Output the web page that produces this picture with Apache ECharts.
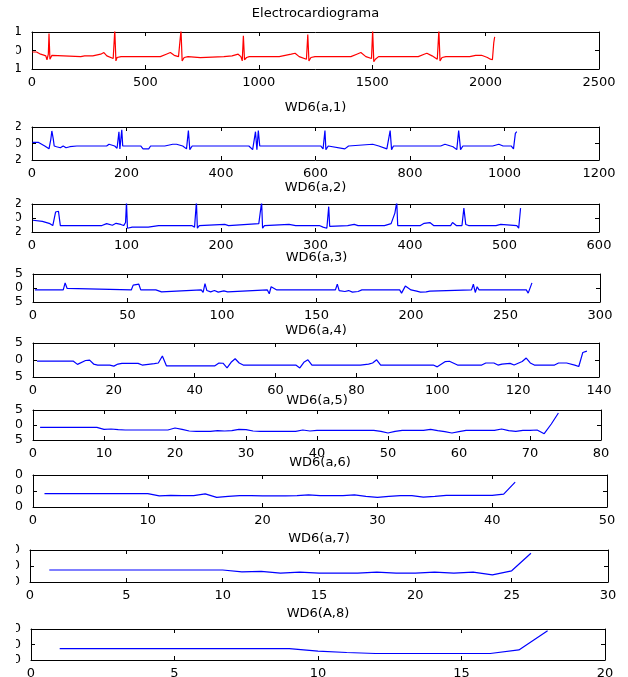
<!DOCTYPE html>
<html><head><meta charset="utf-8">
<script src="https://cdn.jsdelivr.net/npm/echarts@6/dist/echarts.min.js"></script>
<style>
html,body{margin:0;padding:0;background:#fff;}
#wrap{position:relative;width:628px;height:677px;overflow:hidden;background:#fff;}
#chart{position:absolute;left:16px;top:0;width:612px;height:677px;}
</style>
</head><body><div id="wrap"><div id="chart"></div></div>
<script>
// ---- data ----
const titles = ['Electrocardiograma','WD6(a,1)','WD6(a,2)','WD6(a,3)','WD6(a,4)','WD6(a,5)','WD6(a,6)','WD6(a,7)','WD6(A,8)'];
const xMax  = [2500,1200,600,300,140,80,50,30,20];
const xStep = [500,200,100,50,20,10,10,5,5];
const yMax  = [1,2,2,5,5,5,10,20,20];

const ecg = [[1,-0.08],[20,-0.08],[38,-0.2],[52,-0.25],[61,-0.29],[66,-0.5],[72,-0.2],[75,0.92],[79,-0.47],[84,-0.56],[88,-0.26],[95,-0.33],[215,-0.33],[232,-0.29],[268,-0.29],[303,-0.2],[317,-0.11],[330,-0.29],[358,-0.43],[365,1.1],[370,-0.56],[375,-0.38],[393,-0.33],[566,-0.33],[592,-0.2],[610,-0.11],[627,-0.26],[646,-0.33],[652,-0.43],[657,1.1],[662,-0.56],[671,-0.38],[688,-0.33],[742,-0.38],[846,-0.33],[882,-0.29],[909,-0.2],[921,-0.33],[927,-0.56],[932,0.8],[937,-0.5],[946,-0.38],[958,-0.33],[1090,-0.33],[1143,-0.2],[1160,-0.15],[1178,-0.33],[1210,-0.47],[1216,0.86],[1221,-0.56],[1230,-0.38],[1248,-0.33],[1406,-0.33],[1432,-0.2],[1450,-0.11],[1472,-0.33],[1497,-0.43],[1502,1.1],[1507,-0.61],[1514,-0.47],[1528,-0.33],[1703,-0.33],[1729,-0.2],[1741,-0.15],[1764,-0.29],[1787,-0.47],[1794,1.1],[1799,-0.56],[1808,-0.38],[1825,-0.33],[1930,-0.33],[1956,-0.26],[1982,-0.26],[2008,-0.38],[2021,-0.47],[2030,-0.5],[2036,0.42],[2040,0.74]];

const a1 = [[1,0.13],[14,0.13],[27,-0.3],[36,-0.65],[40,0.57],[42,1.52],[45,0.57],[47,-0.3],[52,-0.39],[60,-0.52],[66,-0.3],[72,-0.52],[80,-0.39],[95,-0.3],[158,-0.3],[163,-0.09],[175,-0.3],[180,-0.57],[184,1.43],[186,-0.65],[190,1.65],[192,-0.3],[230,-0.3],[235,-0.65],[247,-0.65],[251,-0.3],[281,-0.3],[285,-0.39],[298,-0.09],[306,-0.09],[319,-0.3],[327,-0.65],[331,1.57],[334,-0.74],[339,-0.3],[391,-0.3],[395,-0.09],[408,-0.3],[459,-0.3],[467,-0.74],[473,1.43],[476,-0.74],[479,1.57],[482,-0.3],[544,-0.3],[548,-0.09],[569,-0.3],[611,-0.3],[616,-0.65],[620,1.57],[622,-0.74],[627,-0.3],[662,-0.65],[670,-0.3],[721,-0.09],[734,-0.3],[751,-0.65],[758,1.57],[761,-0.74],[765,-0.3],[865,-0.3],[874,-0.09],[891,-0.39],[899,-0.74],[903,1.57],[907,-0.74],[912,-0.3],[975,-0.3],[988,-0.09],[997,-0.3],[1014,-0.3],[1019,-0.65],[1023,1.22],[1026,1.43]];

const a2 = [[1,-0.32],[11,-0.49],[19,-0.81],[22,-1.08],[25,0.86],[27,1.14],[28,0.97],[30,-1.08],[74,-1.08],[79,-0.81],[85,-1.03],[89,-0.76],[94,-0.92],[97,-1.08],[99,-0.65],[100,2.3],[101,-1.46],[102,-1.19],[106,-1.3],[123,-1.3],[134,-1.08],[136,-0.92],[140,-1.08],[164,-1.08],[166,-0.81],[169,-1.08],[172,-1.3],[174,2.3],[175,-1.46],[177,-1.08],[204,-0.92],[208,-1.08],[240,-0.81],[243,2.3],[244,-1.46],[246,-1.08],[272,-0.92],[279,-1.08],[304,-1.08],[308,-1.3],[312,-1.46],[314,1.62],[315,-1.19],[334,-1.08],[341,-0.92],[345,-1.08],[373,-1.08],[380,-0.81],[384,0.7],[386,2.3],[387,-1.08],[411,-1.08],[415,-0.76],[421,-0.65],[425,-1.08],[443,-1.08],[445,-0.65],[449,-1.08],[455,-1.08],[457,1.41],[459,-0.92],[462,-1.08],[491,-1.08],[496,-0.92],[513,-1.08],[515,-1.46],[517,1.41]];

const a3 = [[1,-0.68],[8,-0.68],[9,-0.34],[10,-0.68],[16,-0.68],[17,1.82],[18,-0.11],[19,-0.68],[52,-0.68],[53,1.02],[54,1.59],[56,1.36],[57,-0.68],[65,-0.68],[66,-1.36],[68,-1.36],[69,-0.68],[89,-0.68],[90,-1.59],[91,1.59],[92,-0.91],[93,-0.68],[94,-1.36],[96,-0.91],[98,-1.48],[101,-1.02],[103,-1.36],[104,-0.68],[124,-0.68],[125,-2.05],[126,0.45],[127,1.02],[129,-0.68],[160,-0.68],[161,1.36],[162,-0.91],[165,-1.25],[167,-0.91],[169,-1.48],[172,-1.25],[174,-0.68],[194,-0.68],[195,-1.82],[197,0.68],[198,0.45],[200,-0.68],[203,-1.14],[205,-1.48],[208,-1.36],[210,-1.14],[211,-0.68],[232,-0.68],[233,1.36],[234,-1.59],[235,0.45],[236,-0.68],[261,-0.68],[262,-1.82],[264,1.82]];

const a4 = [[1,-0.36],[10,-0.36],[11,-1.29],[13,-0.15],[14,-0.05],[15,-1.19],[16,-1.49],[19,-1.49],[20,-1.8],[21,-1.19],[22,-0.98],[26,-0.98],[27,-1.49],[30,-1.08],[31,-0.88],[32,1.19],[33,-1.7],[45,-1.7],[46,-0.88],[47,-0.95],[48,-2.32],[49,-0.67],[50,0.36],[51,-0.88],[52,-1.49],[65,-1.49],[66,-2.32],[67,-0.67],[68,0.05],[69,-1.49],[81,-1.49],[83,-1.19],[84,-0.88],[85,0.05],[86,-1.49],[99,-1.49],[100,-2.01],[102,-0.46],[103,-0.36],[105,-1.49],[111,-1.49],[112,-0.88],[114,-0.88],[115,-1.49],[116,-1.19],[118,-0.98],[119,-1.49],[121,-0.46],[122,0.57],[123,-0.88],[124,-1.49],[129,-1.49],[130,-0.88],[132,-0.88],[134,-1.49],[135,-1.9],[136,2.22],[137,2.63]];

const a5 = [[1,-0.78],[9,-0.78],[10,-1.44],[11,-1.33],[12,-1.56],[13,-1.67],[19,-1.67],[20,-1],[21,-1.44],[22,-2],[23,-2.11],[25,-2.11],[26,-1.89],[27,-2],[28,-1.89],[29,-1.44],[30,-1.56],[31,-2],[32,-2.11],[37,-2.11],[38,-1.67],[39,-2],[40,-1.78],[48,-1.78],[49,-2.11],[50,-2.67],[51,-2.11],[52,-1.78],[55,-1.78],[56,-1.44],[57,-1.89],[58,-2.22],[59,-2.67],[60,-2.22],[61,-1.78],[65,-1.78],[66,-1.33],[67,-1.89],[68,-2.11],[69,-1.78],[70,-1.78],[71,-1.67],[72,-2.9],[73,0.33],[74,4]];

const a6 = [[1,-1.6],[10,-1.6],[11,-3.1],[12,-2.7],[13,-2.9],[14,-2.9],[15,-1.8],[16,-4],[17,-3.3],[18,-2.9],[19,-2.9],[20,-3.1],[22,-3.1],[23,-2.9],[24,-2.4],[25,-2.9],[27,-2.9],[28,-2.4],[29,-3.3],[30,-4],[31,-3.3],[32,-2.9],[33,-2.9],[34,-3.8],[35,-3.3],[36,-2.7],[40,-2.7],[41,-2],[42,5.6]];

const a7 = [[1,-5],[10,-5],[11,-7.4],[12,-6.6],[13,-9],[14,-7.6],[15,-9],[17,-9],[18,-7.6],[19,-9],[20,-9],[21,-7.6],[22,-9],[23,-7.6],[24,-11],[25,-6],[26,16]];

const a8 = [[1,-5.3],[9,-5.3],[10,-8.6],[11,-10.3],[12,-11.6],[16,-11.6],[17,-7],[18,17.9]];

const seriesData = [ecg,a1,a2,a3,a4,a5,a6,a7,a8];
const colors = ['#ff0000','#0000ff','#0000ff','#0000ff','#0000ff','#0000ff','#0000ff','#0000ff','#0000ff'];

// ---- layout (page pixels): left, top, width, height ; title centre y ----
const OFF = 16;
const boxes = [[32,32,567,37],[32,127,567,33],[32,204,567,28],[33,274,567,28],[33,343,566,34],[33,410,568,30],[33,475,574,32],[30,550,578,32],[31,629,574,31]];
const titleY = [14,108,188,258,331,401,463,539,614];
const FONT = 'DejaVu Sans, Liberation Sans, Arial, sans-serif';
const plain = v => String(v);

const grid=[], xAxis=[], yAxis=[], series=[], graphic=[];
boxes.forEach((b,i)=>{
  grid.push({left:b[0]-OFF, top:b[1], width:b[2], height:b[3], containLabel:false, outerBoundsMode:'none'});
  const tick = {show:true, inside:true, length:4, lineStyle:{color:'#000', width:1}};
  const line = {show:true, onZero:false, lineStyle:{color:'#000', width:1}};
  xAxis.push({type:'value', gridIndex:i, position:'bottom', min:0, max:xMax[i], interval:xStep[i],
    axisLine:line, axisTick:tick, splitLine:{show:false},
    axisLabel:{show:true, margin:7, fontSize:13, color:'#000', fontFamily:FONT, formatter:plain}});
  xAxis.push({type:'value', gridIndex:i, position:'top', min:0, max:xMax[i], interval:xStep[i],
    axisLine:line, axisTick:tick, splitLine:{show:false}, axisLabel:{show:false}});
  yAxis.push({type:'value', gridIndex:i, position:'left', min:-yMax[i], max:yMax[i], interval:yMax[i],
    axisLine:line, axisTick:tick, splitLine:{show:false},
    axisLabel:{show:true, margin:10, fontSize:13, color:'#000', fontFamily:FONT, formatter:plain}});
  yAxis.push({type:'value', gridIndex:i, position:'right', min:-yMax[i], max:yMax[i], interval:yMax[i],
    axisLine:line, axisTick:tick, splitLine:{show:false}, axisLabel:{show:false}});
  series.push({type:'line', xAxisIndex:2*i, yAxisIndex:2*i, data:seriesData[i], showSymbol:false, symbol:'none',
    clip:true, lineStyle:{color:colors[i], width:1.2}, itemStyle:{color:colors[i]}});
  graphic.push({type:'text', x:b[0]-OFF+b[2]/2, y:titleY[i],
    style:{text:titles[i], fill:'#000', font:'13px '+FONT, textAlign:'center', textVerticalAlign:'middle', align:'center', verticalAlign:'middle'}});
});

const chart = echarts.init(document.getElementById('chart'), null, {renderer:'canvas'});
chart.setOption({animation:false, backgroundColor:'#fff', grid, xAxis, yAxis, series, graphic});
</script>
</body></html>
